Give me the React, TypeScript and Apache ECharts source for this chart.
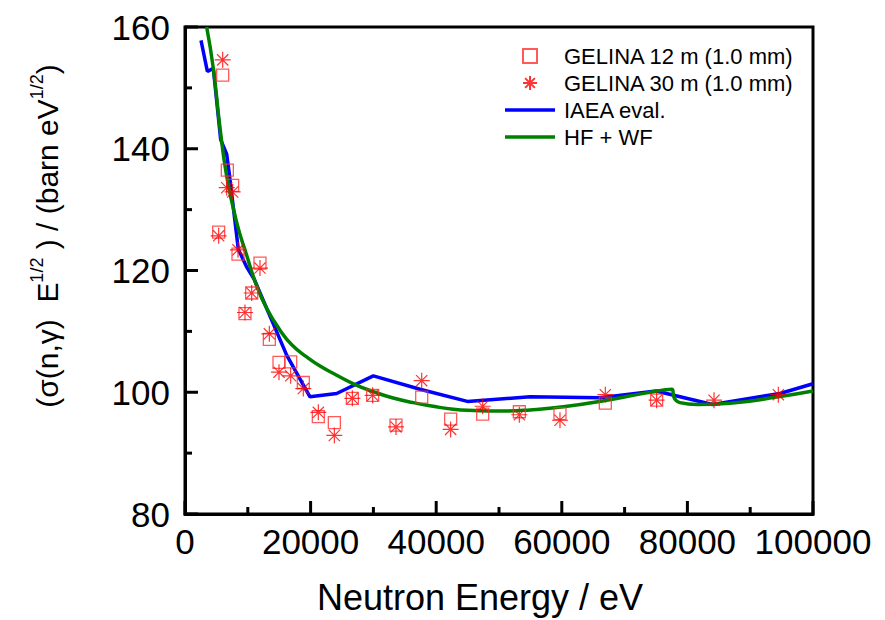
import React, { useEffect, useRef } from 'react';
import * as echarts from 'echarts';

const FONT = '"Liberation Sans", Arial, Helvetica, sans-serif';

// GELINA 12 m (1.0 mm) — squares
const energy12 = [5360, 6000, 6740, 7590, 8440, 9550, 10620, 11940, 13430, 14970, 16830, 18840, 21230, 23780, 26650, 29880, 33600, 37690, 42300, 47400, 53240, 59710, 66930, 75100];
const value12 = [126.3, 152.1, 136.5, 134.0, 122.7, 112.9, 116.3, 121.2, 108.7, 104.9, 105.0, 101.6, 96.0, 95.0, 99.0, 99.5, 94.6, 99.2, 95.6, 96.4, 96.8, 96.5, 98.2, 98.7];

// GELINA 30 m (1.0 mm) — asterisks
const energy30 = [5360, 6000, 6640, 7590, 8440, 9550, 10620, 11940, 13430, 14970, 16830, 18840, 21230, 23780, 26650, 29880, 33600, 37690, 42300, 47400, 53240, 59710, 66930, 75100, 84240, 94480];
const value30 = [125.7, 154.6, 133.6, 132.9, 123.4, 113.1, 116.3, 120.4, 109.6, 103.3, 102.7, 100.6, 96.7, 92.9, 99.0, 99.5, 94.3, 101.9, 93.9, 97.7, 96.3, 95.4, 99.6, 98.7, 98.7, 99.6];

// IAEA eval.
const energyIAEA = [2550, 3560, 4510, 5680, 6640, 7060, 8490, 9800, 11000, 16190, 19900, 24150, 29990, 37420, 44960, 54940, 66080, 75000, 84000, 94750, 100000];
const valueIAEA = [157.8, 152.7, 153.2, 141.5, 139.1, 135.8, 123.5, 120.6, 118.6, 106.1, 99.25, 99.8, 102.7, 100.5, 98.5, 99.25, 99.1, 100.2, 98.0, 99.8, 101.4];

// HF + WF
const energyHF = [3450, 4510, 5570, 6640, 8230, 9820, 11410, 13000, 15130, 17000, 19370, 21500, 24150, 27000, 29990, 33000, 36360, 39500, 42720, 46000, 50160, 54940, 60240, 67150, 73520, 77500, 77920, 78820, 81480, 86780, 94750, 100000];
const valueHF = [160, 153.2, 143.5, 135.5, 127.9, 122.5, 117.5, 113.8, 110.2, 107.8, 105.8, 104.3, 102.8, 101.3, 100.1, 99.1, 98.3, 97.7, 97.2, 97.0, 96.9, 97.1, 97.6, 98.7, 99.9, 100.5, 99.0, 98.3, 98.0, 98.2, 99.3, 100.2];

const xTicks = { min: 0, max: 100000, interval: 20000 };
const yTicks = { min: 80, max: 160, interval: 20 };

// tick positions (major and minor) on both axes
const xMajorTicks = [0, 20000, 40000, 60000, 80000, 100000];
const xMinorTicks = [10000, 30000, 50000, 70000, 90000];
const yMajorTicks = [80, 100, 120, 140, 160];
const yMinorTicks = [90, 110, 130, 150];

const seriesNames = ['GELINA 12 m (1.0 mm)', 'GELINA 30 m (1.0 mm)', 'IAEA eval.', 'HF + WF'];
const xTitle = 'Neutron Energy / eV';
const yTitle = '{a|(σ(n,γ)  E}{s|1/2}{a| ) / (barn eV}{s|1/2}{a|)}';

const zip = (xs: number[], ys: number[]) => xs.map((x, i) => [x, ys[i]]);

const STAR = 'path://M10,0L10,20M0,10L20,10M3,3L17,17M3,17L17,3';
const SQUARE = 'path://M0,0L20,0L20,20L0,20Z';
const LINE_ICON = 'path://M0,0L50,0L50,3.5L0,3.5Z';

export default function App() {
  const ref = useRef<HTMLDivElement>(null);
  useEffect(() => {
    document.body.style.margin = '0';
    const chart = echarts.init(ref.current!, null, { renderer: 'svg' });
    const black = '#000';
    const MAJOR = 13;
    const MINOR = 7;
    // [x, y, length, direction(0 = x-axis tick upward, 1 = y-axis tick rightward)]
    const tickData = [
      ...xMajorTicks.map((v) => [v, yTicks.min, MAJOR, 0]),
      ...xMinorTicks.map((v) => [v, yTicks.min, MINOR, 0]),
      ...yMajorTicks.map((v) => [xTicks.min, v, MAJOR, 1]),
      ...yMinorTicks.map((v) => [xTicks.min, v, MINOR, 1]),
    ];
    const option: any = {
      animation: false,
      backgroundColor: '#fff',
      textStyle: { fontFamily: FONT },
      grid: [
        {
          left: 185,
          right: 72,
          top: 27,
          bottom: 104,
          show: true,
          backgroundColor: 'rgba(0,0,0,0)',
          borderColor: black,
          borderWidth: 3,
        },
      ],
      graphic: [
        {
          type: 'text',
          x: 47,
          y: 236,
          rotation: Math.PI / 2,
          style: {
            text: yTitle,
            align: 'center',
            verticalAlign: 'middle',
            fontFamily: FONT,
            fill: black,
            rich: {
              a: { fontSize: 30, lineHeight: 38, fill: black, fontFamily: FONT },
              s: { fontSize: 18, lineHeight: 18, verticalAlign: 'top', fill: black, fontFamily: FONT },
            },
          },
        },
      ],
      legend: {
        orient: 'vertical',
        left: 500,
        top: 40,
        itemWidth: 50,
        itemHeight: 14,
        itemGap: 5,
        symbolKeepAspect: true,
        data: [
          { name: seriesNames[0], icon: SQUARE },
          { name: seriesNames[1], icon: STAR },
          { name: seriesNames[2], icon: LINE_ICON },
          { name: seriesNames[3], icon: LINE_ICON },
        ],
        textStyle: { fontSize: 22, color: black, fontFamily: FONT, padding: [0, 0, 0, 4] },
      },
      xAxis: [
        {
          gridIndex: 0,
          type: 'value',
          ...xTicks,
          axisLine: { show: true, onZero: false, lineStyle: { color: black, width: 3 } },
          axisTick: { show: false },
          minorTick: { show: false },
          splitLine: { show: false },
          axisLabel: { fontSize: 35, color: black, margin: 10, fontFamily: FONT, formatter: (v: number) => String(v) },
          name: xTitle,
          nameLocation: 'middle',
          nameGap: 65,
          nameTextStyle: { fontSize: 36, color: black, fontFamily: FONT, padding: [0, 38, 0, 0] },
        },
      ],
      yAxis: [
        {
          gridIndex: 0,
          type: 'value',
          ...yTicks,
          axisLine: { show: true, onZero: false, lineStyle: { color: black, width: 3 } },
          axisTick: { show: false },
          minorTick: { show: false },
          splitLine: { show: false },
          axisLabel: { fontSize: 35, color: black, margin: 15, fontFamily: FONT },
        },
      ],
      series: [
        {
          name: seriesNames[0],
          type: 'scatter',
          z: 5,
          symbol: SQUARE,
          symbolSize: 12,
          itemStyle: { color: 'rgba(0,0,0,0)', borderColor: '#ff3030', borderWidth: 1.3 },
          data: zip(energy12, value12),
        },
        {
          name: seriesNames[1],
          type: 'scatter',
          z: 6,
          symbol: STAR,
          symbolSize: 16,
          itemStyle: { color: 'rgba(0,0,0,0)', borderColor: '#ff0000', borderWidth: 1.2 },
          data: zip(energy30, value30),
        },
        {
          name: seriesNames[2],
          type: 'line',
          z: 3,
          showSymbol: false,
          symbol: 'none',
          color: '#0000ff',
          lineStyle: { color: '#0000ff', width: 3.5 },
          data: zip(energyIAEA, valueIAEA),
        },
        {
          name: seriesNames[3],
          type: 'line',
          z: 4,
          showSymbol: false,
          symbol: 'none',
          smooth: 0.5,
          color: '#008000',
          lineStyle: { color: '#008000', width: 3.5 },
          data: zip(energyHF, valueHF),
        },
        {
          name: 'ticks',
          type: 'custom',
          z: 8,
          silent: true,
          clip: false,
          data: tickData,
          renderItem: (_params: any, api: any) => {
            const p = api.coord([api.value(0), api.value(1)]);
            const len = api.value(2);
            const dir = api.value(3);
            const shape = dir === 0
              ? { x1: p[0], y1: p[1], x2: p[0], y2: p[1] - len }
              : { x1: p[0], y1: p[1], x2: p[0] + len, y2: p[1] };
            return { type: 'line', shape, style: { stroke: black, lineWidth: 3 } };
          },
        },
      ],
    };
    chart.setOption(option);
    return () => chart.dispose();
  }, []);
  return <div ref={ref} style={{ width: 885, height: 620 }} />;
}
